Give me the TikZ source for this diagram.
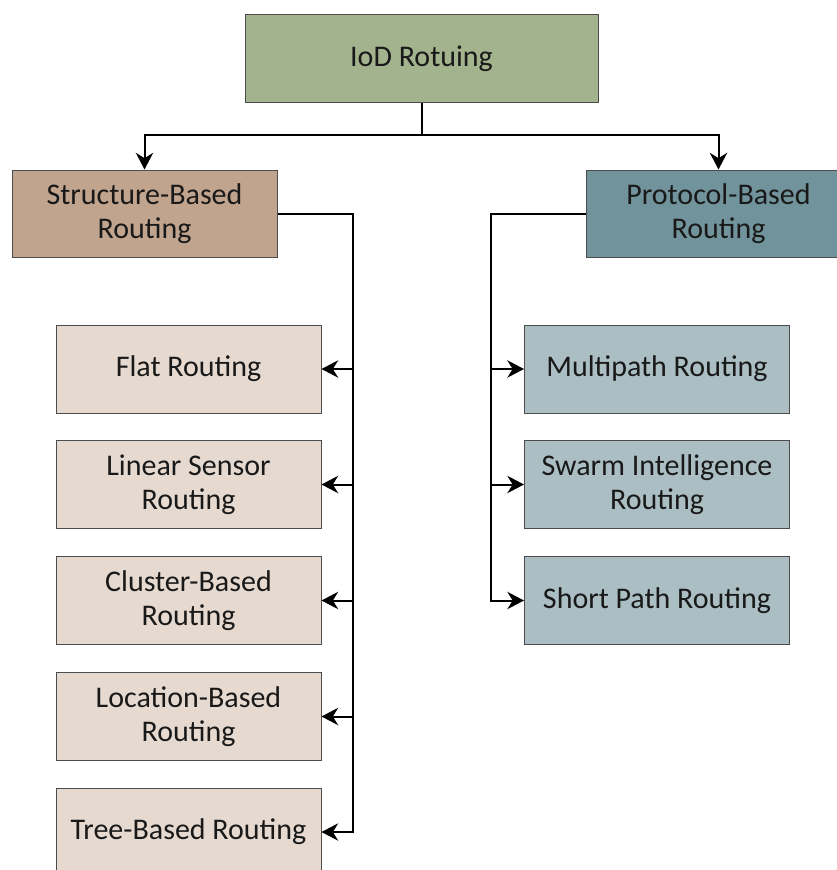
\documentclass[tikz,border=0pt]{standalone}
\usepackage{fontspec}
\setmainfont{Carlito}
\usetikzlibrary{arrows.meta}
\definecolor{rootgreen}{HTML}{A3B38D}
\definecolor{strbrown}{HTML}{C1A48D}
\definecolor{strlight}{HTML}{E6DAD0}
\definecolor{proteal}{HTML}{71939B}
\definecolor{prolight}{HTML}{ABBEC4}
\tikzset{
  box/.style={draw=black!70, line width=0.75pt, align=center, inner sep=0pt,
    text=black!90, font=\fontsize{22.5}{25.5}\selectfont},
  rootbox/.style={box, fill=rootgreen, minimum width=353*0.75pt, minimum height=88*0.75pt},
  headbox/.style={box, minimum width=265*0.75pt, minimum height=87*0.75pt},
  subbox/.style={box, minimum width=265*0.75pt, minimum height=88*0.75pt},
  link/.style={line width=1.5pt},
  arr/.style={link, -{Stealth[length=12.5pt,width=13pt,inset=4pt]}},
}

\begin{document}
\begin{tikzpicture}[x=0.75pt, y=-0.75pt]
		%%%%% START %%%%%
		\useasboundingbox (0,0) rectangle (837,870);
		
		\node[rootbox] (iod) at (421.5,59) {IoD Rotuing};
		
		\node[headbox, fill=strbrown] (str) at (144.5,213.5) {Structure-Based\\Routing};
		\node[headbox, fill=proteal] (pro) at (718.5,213.5) {Protocol-Based\\Routing};
		
		\node[subbox, fill=strlight] (flat) at (188.5,369) {Flat Routing};
		\node[subbox, fill=strlight] (linear) at (188.5,484.5) {Linear Sensor\\Routing};
		\node[subbox, fill=strlight] (cluster) at (188.5,600.5) {Cluster-Based\\Routing};
		\node[subbox, fill=strlight] (location) at (188.5,716.5) {Location-Based\\Routing};
		\node[subbox, fill=strlight] (tree) at (188.5,832) {Tree-Based Routing};
		
		\node[subbox, fill=prolight] (multi) at (657,369) {Multipath Routing};
		\node[subbox, fill=prolight] (swarm) at (657,484.5) {Swarm Intelligence\\Routing};
		\node[subbox, fill=prolight] (short) at (657,600.5) {Short Path Routing};
		
		\coordinate (lbus) at (353,213.5);
		\coordinate (rbus) at (491,213.5);
		
		\draw[link] (iod.south) -- ++(0,32) coordinate (split);
		\draw[arr] (split) -| (str.north);
		\draw[arr] (split) -| (pro.north);
		
		\draw[arr] (str.east) -| (lbus |- tree.east) -- (tree.east);
		\foreach \n in {flat,linear,cluster,location}
			\draw[arr] (lbus |- \n.east) -- (\n.east);
		
		\draw[arr] (pro.west) -| (rbus |- short.west) -- (short.west);
		\foreach \n in {multi,swarm}
			\draw[arr] (rbus |- \n.west) -- (\n.west);
		%%%%% END %%%%%
\end{tikzpicture}
\end{document}
